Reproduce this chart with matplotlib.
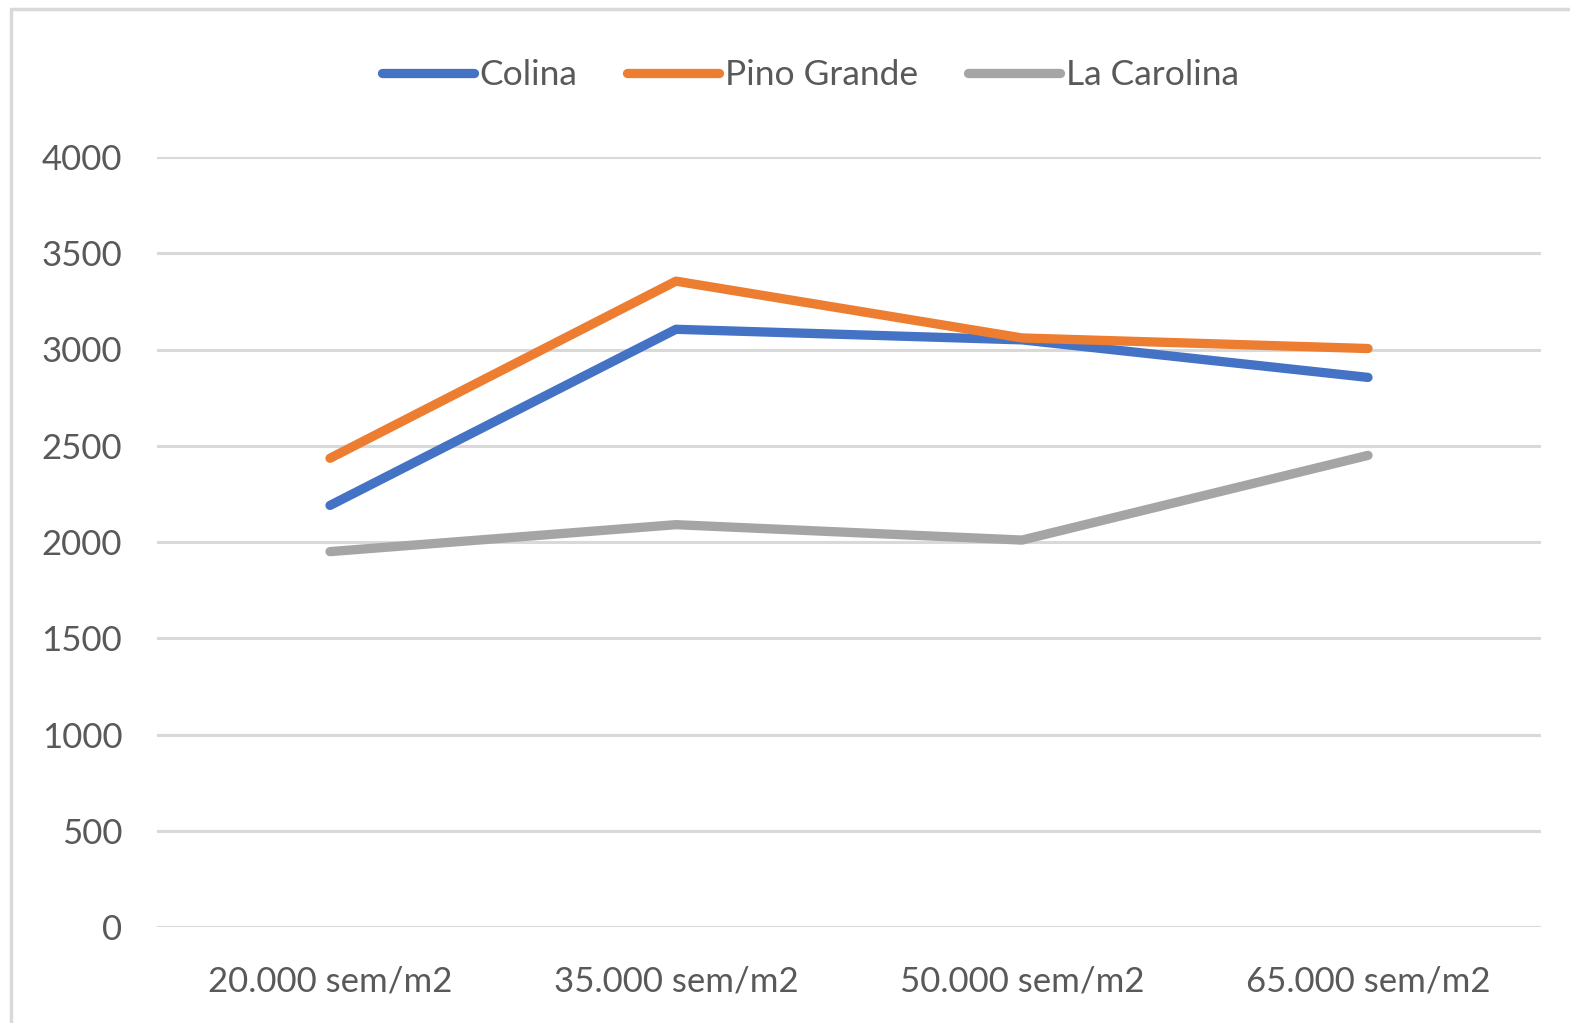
import matplotlib.pyplot as plt
from matplotlib.patches import Rectangle

plt.rcParams['font.family'] = ['Lato', 'DejaVu Sans']

categorias = ['20.000 sem/m2', '35.000 sem/m2', '50.000 sem/m2', '65.000 sem/m2']
colina = [2190, 3105, 3050, 2855]
pino_grande = [2435, 3355, 3060, 3005]
la_carolina = [1950, 2090, 2010, 2450]

fig = plt.figure(figsize=(15.7, 10.23), dpi=100)

# borde del grafico
fig.patches.append(Rectangle((11 / 1570, -0.05), 1.1, 1 - 9 / 1023 + 0.05,
                             transform=fig.transFigure, fill=False,
                             edgecolor='#D9D9D9', linewidth=2.5))

ax = fig.add_axes([157 / 1570, 96 / 1023, 1384 / 1570, 770 / 1023])
x = range(len(categorias))
ax.plot(x, colina, color='#4472C4', linewidth=6.7, solid_capstyle='round', label='Colina')
ax.plot(x, pino_grande, color='#ED7D31', linewidth=6.7, solid_capstyle='round', label='Pino Grande')
ax.plot(x, la_carolina, color='#A5A5A5', linewidth=6.7, solid_capstyle='round', label='La Carolina')

ax.set_xlim(-0.5, 3.5)
ax.set_ylim(0, 4000)
ax.set_yticks(range(0, 4001, 500))
ax.set_xticks(list(x))
ax.set_xticklabels(categorias)
ax.grid(axis='y', color='#D9D9D9', linewidth=2.2)
ax.set_axisbelow(True)
for s in ax.spines.values():
    s.set_visible(False)
ax.tick_params(length=0, labelsize=25, labelcolor='#595959')
ax.tick_params(axis='y', pad=25)
ax.tick_params(axis='x', pad=28)

leg = ax.legend(loc='center', bbox_to_anchor=(0.472, 1.106), ncol=3, frameon=False,
                fontsize=25.5, handlelength=2.6, handletextpad=0.17, columnspacing=1.4)
for t in leg.get_texts():
    t.set_color('#595959')

fig.savefig('out.png', dpi=100)
